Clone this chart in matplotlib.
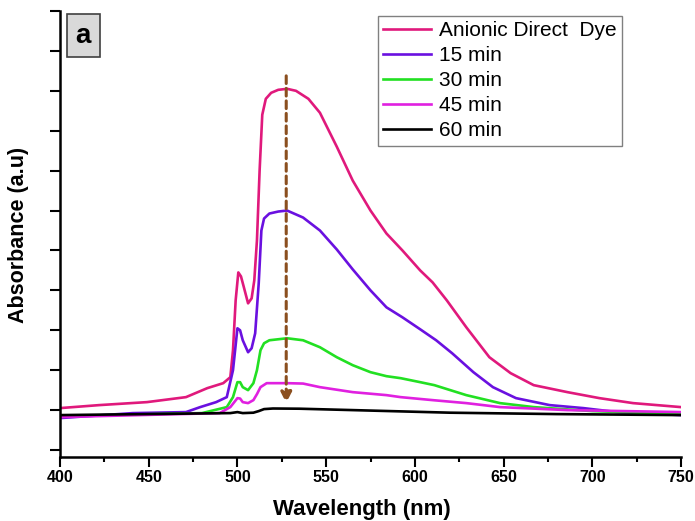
import numpy as np
import matplotlib
matplotlib.use("Agg")
import matplotlib.pyplot as plt
from matplotlib.patches import Rectangle
from matplotlib.ticker import MultipleLocator

plt.rcParams['font.family'] = ['Liberation Sans', 'DejaVu Sans']

# Data
dye_wl = [400, 422, 449, 471, 483, 492, 496, 497.5, 499, 500.5, 502, 503.5, 506, 508, 509.5,
          511, 512.5, 514, 516, 519, 523, 528, 533, 540, 546.5, 556, 565, 575, 584, 593,
          603, 610, 618, 629, 642, 654, 667, 686, 704, 723, 750]
dye_abs = [0.01, 0.025, 0.04, 0.065, 0.11, 0.135, 0.165, 0.30, 0.55, 0.69, 0.67, 0.62, 0.535,
           0.56, 0.65, 0.85, 1.2, 1.48, 1.56, 1.59, 1.605, 1.61, 1.60, 1.56, 1.49, 1.32, 1.15,
           1.0, 0.885, 0.80, 0.70, 0.64, 0.55, 0.415, 0.265, 0.185, 0.125, 0.09, 0.06, 0.035, 0.015]

m15_wl = [400, 441, 471, 479, 488, 494, 497.5, 500, 501.5, 503, 506, 508, 510, 512, 513.5,
          515, 518, 523, 528, 537, 546.5, 556, 565, 575, 584, 593, 603, 612, 621, 633, 644,
          657, 676, 695, 714, 750]
m15_abs = [-0.04, -0.015, -0.01, 0.015, 0.04, 0.065, 0.2, 0.41, 0.40, 0.35, 0.29, 0.31, 0.385,
           0.635, 0.9, 0.96, 0.985, 0.995, 1.0, 0.965, 0.9, 0.805, 0.705, 0.6, 0.515, 0.465,
           0.405, 0.35, 0.285, 0.19, 0.115, 0.06, 0.025, 0.01, -0.01, -0.025]

m30_wl = [400, 480, 494, 497.5, 500, 501.5, 503, 506, 509, 511, 513, 515, 518, 528, 537, 546.5,
          556, 565, 575, 584, 592, 603, 611, 620, 629, 648, 667, 700, 750]
m30_abs = [-0.03, -0.015, 0.015, 0.065, 0.14, 0.14, 0.115, 0.10, 0.135, 0.2, 0.3, 0.335, 0.35,
           0.36, 0.35, 0.315, 0.265, 0.225, 0.19, 0.17, 0.16, 0.14, 0.125, 0.10, 0.075, 0.035,
           0.015, -0.005, -0.02]

m45_wl = [400, 490, 496, 500, 501.5, 503, 506, 509, 511, 513, 516.5, 528, 537, 546.5, 565, 584,
          592, 610, 629, 648, 686, 750]
m45_abs = [-0.035, -0.015, 0.015, 0.06, 0.058, 0.04, 0.035, 0.05, 0.08, 0.115, 0.135, 0.135,
           0.133, 0.115, 0.09, 0.075, 0.065, 0.05, 0.035, 0.015, 0.0, -0.01]

m60_wl = [400, 496, 500, 503, 509, 512, 515, 520, 535, 565, 620, 680, 750]
m60_abs = [-0.025, -0.015, -0.01, -0.015, -0.013, -0.005, 0.005, 0.008, 0.007, 0.0, -0.013,
           -0.02, -0.025]

labels = ['Anionic Direct  Dye', '15 min', '30 min', '45 min', '60 min']
colors = ['#E0197C', '#6A10E0', '#22E022', '#E020E0', '#000000']

arrow_wl = 527.5
arrow_top = 1.675
arrow_tip = 0.035

fig = plt.figure(figsize=(6.95, 5.21), dpi=100)
ax = fig.add_axes([60 / 695, 1 - 457 / 521, 621 / 695, 446 / 521])

series = [(dye_wl, dye_abs), (m15_wl, m15_abs), (m30_wl, m30_abs),
          (m45_wl, m45_abs), (m60_wl, m60_abs)]
for (wl, ab), lab, col in zip(series, labels, colors):
    ax.plot(wl, ab, color=col, lw=1.9, label=lab, solid_joinstyle='round')

# dashed arrow marking the decrease
ax.annotate('', xy=(arrow_wl, arrow_tip), xytext=(arrow_wl, arrow_top),
            arrowprops=dict(arrowstyle='-|>', color='#8B4F1F', lw=2.2,
                            linestyle=(0, (2.5, 1.6)), mutation_scale=16,
                            shrinkA=0, shrinkB=0))

ax.set_xlim(400, 750)
ax.set_ylim(-0.235, 2.0)
ax.xaxis.set_major_locator(MultipleLocator(50))
ax.xaxis.set_minor_locator(MultipleLocator(25))
ax.set_yticks(np.arange(-0.2, 2.01, 0.2))
ax.set_yticklabels([])

for side in ['top', 'right']:
    ax.spines[side].set_visible(False)
for side in ['left', 'bottom']:
    ax.spines[side].set_linewidth(1.8)

ax.tick_params(axis='both', which='major', direction='out', length=7, width=1.5)
ax.tick_params(axis='x', which='minor', direction='out', length=3.5, width=1.5)
ax.tick_params(axis='x', labelsize=11.5, pad=2)
for t in ax.get_xticklabels():
    t.set_fontweight('bold')

ax.set_xlabel('Wavelength (nm)', fontsize=16, fontweight='bold')
ax.set_ylabel('Absorbance (a.u)', fontsize=15.5, fontweight='bold')
ax.xaxis.set_label_coords(0.486, -0.095)
ax.yaxis.set_label_coords(-0.05, 0.498)

# panel label box
ax.add_patch(Rectangle((0.011, 0.897), 0.053, 0.096, transform=ax.transAxes,
                       facecolor='#D9D9D9', edgecolor='#404040', lw=1.2, clip_on=False))
ax.text(0.0375, 0.944, 'a', transform=ax.transAxes, ha='center', va='center',
        fontsize=20, fontweight='bold')

leg = ax.legend(loc='upper left', bbox_to_anchor=(378 / 695, 1 - 16 / 521),
                bbox_transform=fig.transFigure, borderaxespad=0, fontsize=15,
                handlelength=2.3, handletextpad=0.4, labelspacing=0.29,
                borderpad=0.25, fancybox=False, framealpha=1)
leg.get_frame().set_edgecolor('#808080')
leg.get_frame().set_linewidth(1.0)

fig.savefig('out.png', dpi=100)
